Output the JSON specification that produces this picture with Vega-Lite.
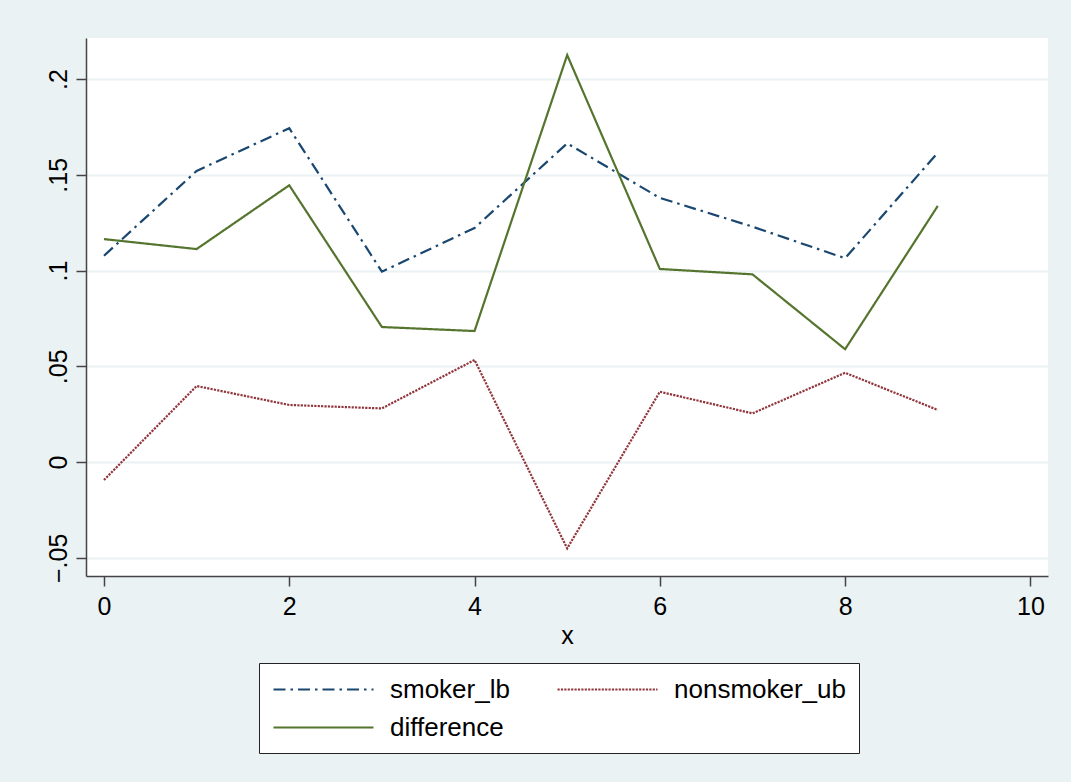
{
  "$schema": "https://vega.github.io/schema/vega-lite/v6.json",
  "width": 962,
  "height": 538,
  "autosize": {"type": "none"},
  "padding": {"left": 86, "top": 38, "right": 23, "bottom": 206},
  "background": "#EAF2F3",
  "config": {
    "view": {"fill": "white", "stroke": null},
    "font": "Liberation Sans"
  },
  "data": {
    "values": [
      {"x": 0, "series": "smoker_lb", "value": 0.1077},
      {"x": 1, "series": "smoker_lb", "value": 0.152},
      {"x": 2, "series": "smoker_lb", "value": 0.1743},
      {"x": 3, "series": "smoker_lb", "value": 0.0994},
      {"x": 4, "series": "smoker_lb", "value": 0.1222},
      {"x": 5, "series": "smoker_lb", "value": 0.1664},
      {"x": 6, "series": "smoker_lb", "value": 0.1379},
      {"x": 7, "series": "smoker_lb", "value": 0.1229},
      {"x": 8, "series": "smoker_lb", "value": 0.1064},
      {"x": 9, "series": "smoker_lb", "value": 0.1615},
      {"x": 0, "series": "nonsmoker_ub", "value": -0.0094},
      {"x": 1, "series": "nonsmoker_ub", "value": 0.0397},
      {"x": 2, "series": "nonsmoker_ub", "value": 0.0298},
      {"x": 3, "series": "nonsmoker_ub", "value": 0.028},
      {"x": 4, "series": "nonsmoker_ub", "value": 0.0533},
      {"x": 5, "series": "nonsmoker_ub", "value": -0.0451},
      {"x": 6, "series": "nonsmoker_ub", "value": 0.0367},
      {"x": 7, "series": "nonsmoker_ub", "value": 0.0254},
      {"x": 8, "series": "nonsmoker_ub", "value": 0.0466},
      {"x": 9, "series": "nonsmoker_ub", "value": 0.0272},
      {"x": 0, "series": "difference", "value": 0.1164},
      {"x": 1, "series": "difference", "value": 0.1112},
      {"x": 2, "series": "difference", "value": 0.1445},
      {"x": 3, "series": "difference", "value": 0.0705},
      {"x": 4, "series": "difference", "value": 0.0684},
      {"x": 5, "series": "difference", "value": 0.2125},
      {"x": 6, "series": "difference", "value": 0.1008},
      {"x": 7, "series": "difference", "value": 0.098},
      {"x": 8, "series": "difference", "value": 0.0589},
      {"x": 9, "series": "difference", "value": 0.1337}
    ]
  },
  "mark": {"type": "line", "strokeWidth": 2.2},
  "encoding": {
    "x": {
      "field": "x",
      "type": "quantitative",
      "scale": {"domain": [-0.194, 10.19], "nice": false, "zero": false},
      "axis": {
        "values": [0, 2, 4, 6, 8, 10],
        "format": "d",
        "title": "x",
        "grid": false,
        "domainColor": "#444444",
        "domainWidth": 1.5,
        "tickColor": "#444444",
        "tickWidth": 1.5,
        "tickSize": 10,
        "labelFontSize": 25,
        "labelColor": "black",
        "labelPadding": 8,
        "labelFlush": false,
        "titleFontSize": 25,
        "titleFontWeight": "normal",
        "titleColor": "black",
        "titlePadding": 4
      }
    },
    "y": {
      "field": "value",
      "type": "quantitative",
      "scale": {"domain": [-0.0595, 0.2214], "nice": false, "zero": false},
      "axis": {
        "values": [-0.05, 0, 0.05, 0.1, 0.15, 0.2],
        "labelExpr": "datum.value == 0 ? '0' : replace(format(datum.value, '.2~f'), '0.', '.')",
        "title": null,
        "grid": true,
        "gridColor": "#EAF2F3",
        "gridWidth": 2,
        "domainColor": "#444444",
        "domainWidth": 1.5,
        "tickColor": "#444444",
        "tickWidth": 1.5,
        "tickSize": 10,
        "labelFontSize": 25,
        "labelColor": "black",
        "labelAngle": 270,
        "labelAlign": "center",
        "labelBaseline": "alphabetic",
        "labelPadding": 10,
        "labelFlush": false
      }
    },
    "stroke": {
      "field": "series",
      "type": "nominal",
      "scale": {
        "domain": ["smoker_lb", "nonsmoker_ub", "difference"],
        "range": ["#1A476F", "#90353B", "#55752F"]
      },
      "legend": {
        "orient": "none",
        "legendX": 173,
        "legendY": 625,
        "title": null,
        "columns": 2,
        "direction": "horizontal",
        "symbolType": "M-4,0H4",
        "symbolSize": 625,
        "symbolOffset": 38,
        "symbolStrokeWidth": 2.2,
        "symbolFillColor": "transparent",
        "labelOffset": 52.5,
        "labelFontSize": 26,
        "labelColor": "black",
        "labelLimit": 400,
        "padding": 12.5,
        "rowPadding": 11,
        "columnPadding": 42,
        "fillColor": "white",
        "strokeColor": "#222222"
      }
    },
    "strokeDash": {
      "field": "series",
      "type": "nominal",
      "scale": {
        "domain": ["smoker_lb", "nonsmoker_ub", "difference"],
        "range": [[12, 5, 2.5, 5], [2.2, 1.2], [1, 0]]
      },
      "legend": {
        "orient": "none",
        "legendX": 173,
        "legendY": 625,
        "title": null,
        "columns": 2,
        "direction": "horizontal",
        "symbolType": "M-4,0H4",
        "symbolSize": 625,
        "symbolOffset": 38,
        "symbolStrokeWidth": 2.2,
        "symbolFillColor": "transparent",
        "labelOffset": 52.5,
        "labelFontSize": 26,
        "labelColor": "black",
        "labelLimit": 400,
        "padding": 12.5,
        "rowPadding": 11,
        "columnPadding": 42,
        "fillColor": "white",
        "strokeColor": "#222222"
      }
    }
  }
}
